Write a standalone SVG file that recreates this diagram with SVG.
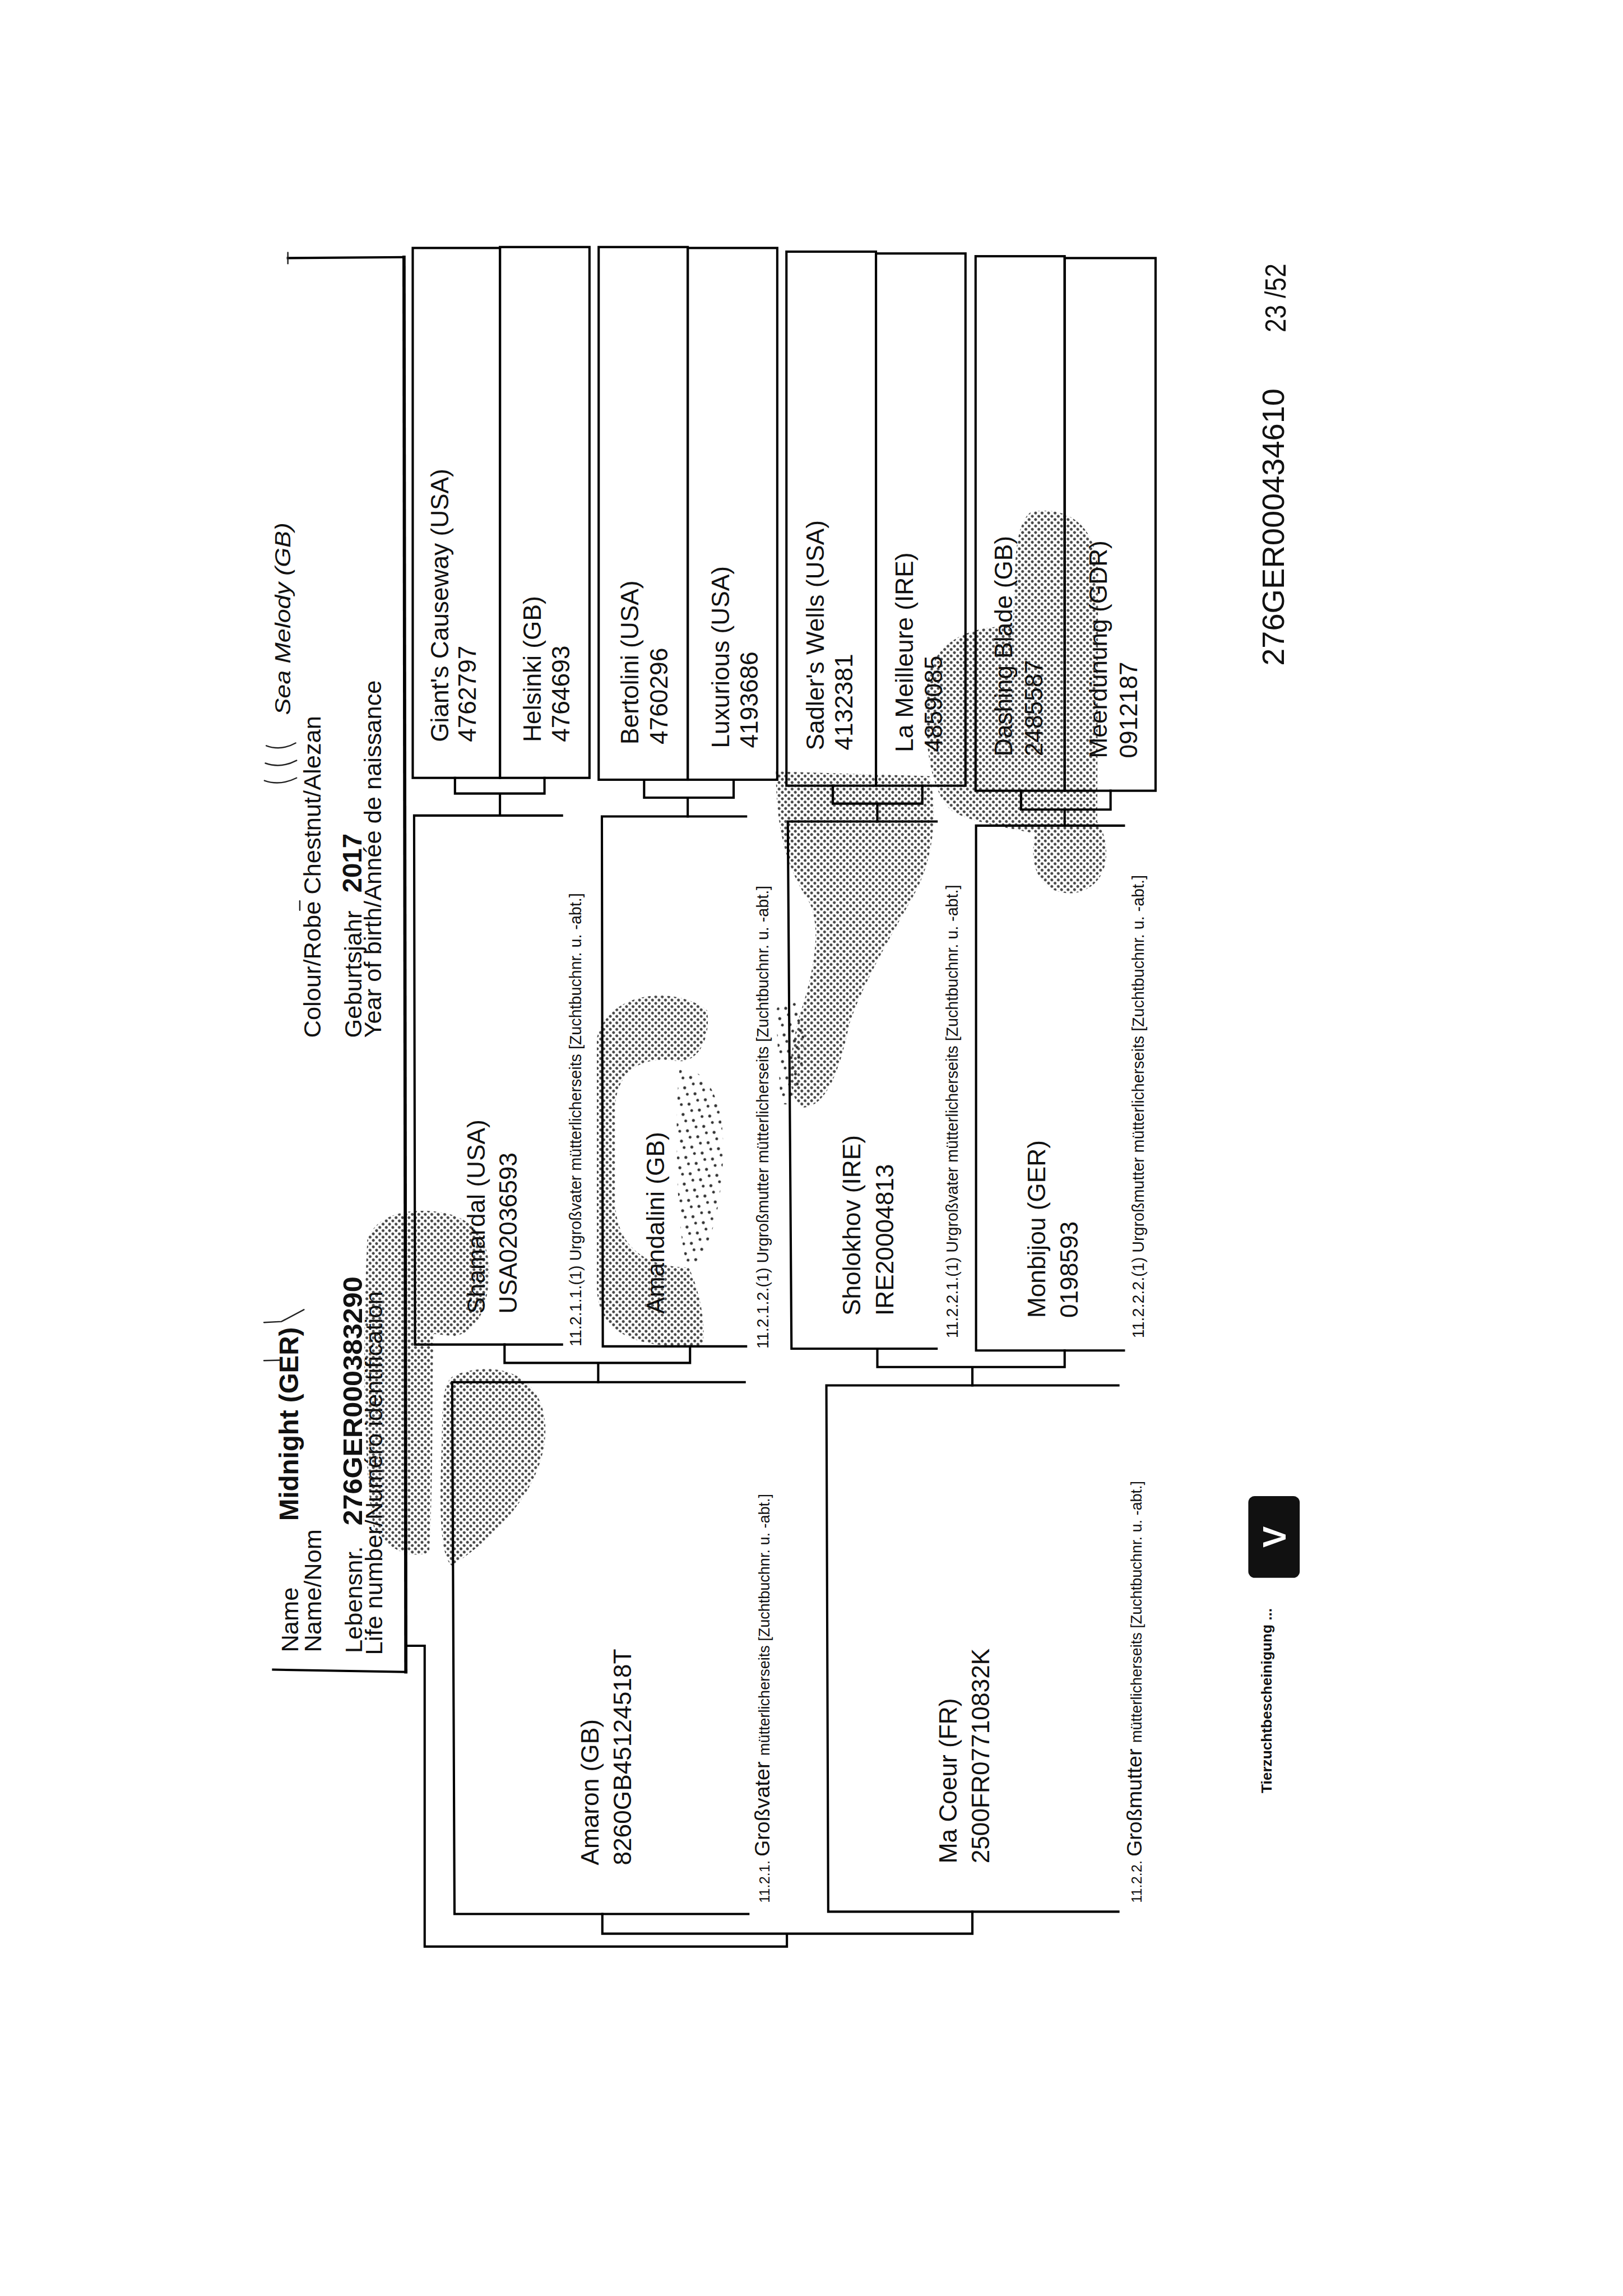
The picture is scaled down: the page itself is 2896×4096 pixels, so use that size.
<svg xmlns="http://www.w3.org/2000/svg" width="2896" height="4096" viewBox="0 0 2896 4096">
<defs>
<pattern id="dots" width="10" height="10" patternUnits="userSpaceOnUse" patternTransform="rotate(45)"><circle cx="5" cy="5" r="3.1" fill="#333"/></pattern>
<pattern id="sparse" width="26" height="26" patternUnits="userSpaceOnUse" patternTransform="rotate(30)"><circle cx="6" cy="6" r="3.2" fill="#333"/><circle cx="18" cy="15" r="3" fill="#333"/></pattern>
<clipPath id="farbeclip"><rect x="637" y="2090" width="60" height="190"/></clipPath>
<style>
.ln{fill:none;stroke:#000;stroke-width:5;stroke-linecap:square;stroke-linejoin:miter}
.hv{stroke-width:7}
.hw{fill:none;stroke:#222;stroke-width:3;stroke-linecap:round}
.t{font-family:"Liberation Sans",Arial,sans-serif;fill:#111}
.nm{font-size:54px}
.lb{font-size:35px}
.hd{font-size:53px}
.b{font-weight:bold}
.blob{fill:url(#dots);opacity:0.9}
.spr{fill:url(#sparse)}
</style>
</defs>
<rect width="2896" height="4096" fill="#fff"/>
<g transform="scale(0.8192)">

<g id="stains">
<path class="blob" d="M 800 2700 C 820 2640, 900 2630, 960 2640 C 1030 2650, 1070 2700, 1065 2780 C 1062 2850, 1040 2900, 990 2910 L 945 2905 C 940 3000, 945 3200, 935 3380 C 900 3395, 850 3380, 815 3330 C 790 3200, 790 2900, 800 2700 Z"/>
<path class="blob" d="M 990 2995 C 1080 2960, 1185 2990, 1188 3110 C 1190 3230, 1090 3340, 985 3410 C 955 3390, 958 3260, 962 3150 C 964 3060, 962 3010, 990 2995 Z"/>
<path class="blob" d="M 1540 2200 C 1480 2150, 1330 2150, 1300 2260 L 1300 2800 C 1300 2900, 1380 2940, 1530 2930 C 1540 2880, 1520 2800, 1500 2760 C 1440 2760, 1345 2740, 1340 2620 L 1340 2420 C 1340 2330, 1400 2300, 1470 2310 C 1520 2320, 1550 2260, 1540 2200 Z"/>
<path class="spr" d="M 1480 2330 C 1540 2320, 1580 2400, 1575 2520 C 1570 2650, 1540 2740, 1500 2760 C 1470 2700, 1470 2400, 1480 2330 Z"/>
<path class="blob" d="M 1690 1680 L 2025 1690 C 2045 1780, 2030 1880, 1990 1950 C 1940 2040, 1880 2140, 1850 2230 C 1830 2330, 1800 2410, 1750 2412 C 1710 2390, 1715 2300, 1745 2200 C 1775 2110, 1790 2010, 1760 1960 C 1720 1900, 1690 1820, 1690 1680 Z"/>
<path class="spr" d="M 1690 2200 C 1720 2150, 1760 2180, 1750 2300 C 1745 2380, 1720 2420, 1700 2400 Z"/>
<path class="blob" d="M 2245 1115 C 2320 1100, 2395 1140, 2392 1260 L 2390 1790 C 2420 1830, 2425 1930, 2340 1945 C 2260 1950, 2240 1880, 2255 1815 C 2180 1800, 2120 1790, 2080 1770 C 2030 1740, 2010 1620, 2018 1500 C 2025 1400, 2110 1360, 2205 1365 C 2215 1280, 2200 1150, 2245 1115 Z"/>
</g>

<g id="header">
<path class="ln" d="M 627 562 L 880 560"/>
<path class="ln hv" d="M 880 560 L 884 3641"/>
<path class="ln" d="M 884 3641 L 595 3636"/>
<path class="hw" d="M 627 550 L 627 574"/>
<text class="t hd" clip-path="url(#farbeclip)" transform="translate(650,2254) rotate(-90)">Farbe</text>
<text class="t hd" transform="translate(650,3598) rotate(-90)">Name</text>
<text class="t hd" transform="translate(700,3598) rotate(-90)">Name/Nom</text>
<text class="t b" font-size="58" transform="translate(650,3312) rotate(-90)">Midnight (GER)</text>
<text class="t hd" transform="translate(698,2260) rotate(-90)">Colour/Robe Chestnut/Alezan</text>
<text class="t hd" transform="translate(788,3600) rotate(-90)">Lebensnr.</text>
<text class="t b" font-size="58" textLength="542" lengthAdjust="spacingAndGlyphs" transform="translate(788,3322) rotate(-90)">276GER000383290</text>
<text class="t hd" transform="translate(833,3604) rotate(-90)">Life number/Numéro identification</text>
<text class="t hd" transform="translate(787,2260) rotate(-90)">Geburtsjahr</text>
<text class="t b" font-size="58" transform="translate(787,1944) rotate(-90)">2017</text>
<text class="t hd" transform="translate(830,2260) rotate(-90)">Year of birth/Année de naissance</text>
<text class="t" font-style="italic" font-size="48" textLength="419" lengthAdjust="spacingAndGlyphs" transform="translate(632,1557) rotate(-90)">Sea Melody (GB)</text>
<path class="hw" d="M 576 1700 Q 610 1712 646 1694 M 578 1662 Q 612 1674 646 1656 M 580 1624 Q 612 1636 644 1618"/>
<path class="hw" d="M 575 2880 L 613 2878 L 662 2852 M 575 2963 L 612 2962"/>
<path class="hw" d="M 653 1962 L 653 1982"/>
</g>

<g id="connectors">
<path class="ln" d="M 991 1694 L 991 1728 L 1186 1728 L 1186 1694 M 1089 1728 L 1089 1776"/>
<path class="ln" d="M 1403 1698 L 1403 1737 L 1598 1737 L 1598 1698 M 1498 1737 L 1498 1778"/>
<path class="ln" d="M 1814 1711 L 1814 1750 L 2009 1750 L 2009 1711 M 1911 1750 L 1911 1789"/>
<path class="ln" d="M 2224 1722 L 2224 1763 L 2419 1763 L 2419 1722 M 2319 1763 L 2319 1798"/>
<path class="ln" d="M 1099 2928 L 1099 2968 L 1503 2968 L 1503 2932 M 1303 2968 L 1303 3010"/>
<path class="ln" d="M 1911 2937 L 1911 2977 L 2319 2977 L 2319 2941 M 2118 2977 L 2118 3017"/>
<path class="ln" d="M 1312 4168 L 1312 4211 L 2118 4211 L 2118 4163 M 1714 4211 L 1714 4239 L 925 4239 L 925 3584 L 884 3584"/>
</g>

<g id="giants-causeway">
<rect class="ln" x="899" y="540" width="190" height="1154"/>
<text class="t nm" transform="translate(977,1616) rotate(-90)">Giant's Causeway (USA)<tspan x="0" dy="60">4762797</tspan></text>
</g>
<g id="helsinki">
<rect class="ln" x="1089" y="538" width="195" height="1156"/>
<text class="t nm" transform="translate(1178,1616) rotate(-90)">Helsinki (GB)<tspan x="0" dy="62">4764693</tspan></text>
</g>
<g id="bertolini">
<rect class="ln" x="1304" y="538" width="194" height="1160"/>
<text class="t nm" transform="translate(1390,1621) rotate(-90)">Bertolini (USA)<tspan x="0" dy="64">4760296</tspan></text>
</g>
<g id="luxurious">
<rect class="ln" x="1498" y="540" width="195" height="1158"/>
<text class="t nm" transform="translate(1588,1629) rotate(-90)">Luxurious (USA)<tspan x="0" dy="62">4193686</tspan></text>
</g>
<g id="sadlers-wells">
<rect class="ln" x="1713" y="548" width="195" height="1163"/>
<text class="t nm" transform="translate(1794,1634) rotate(-90)">Sadler's Wells (USA)<tspan x="0" dy="63">4132381</tspan></text>
</g>
<g id="la-meilleure">
<rect class="ln" x="1908" y="552" width="195" height="1159"/>
<text class="t nm" transform="translate(1989,1638) rotate(-90)">La Meilleure (IRE)<tspan x="0" dy="63">4859085</tspan></text>
</g>
<g id="dashing-blade">
<rect class="ln" x="2125" y="558" width="194" height="1164"/>
<text class="t nm" transform="translate(2204,1647) rotate(-90)">Dashing Blade (GB)<tspan x="0" dy="66">2485587</tspan></text>
</g>
<g id="meerduenung">
<rect class="ln" x="2319" y="562" width="198" height="1160"/>
<text class="t nm" transform="translate(2411,1651) rotate(-90)">Meerdünung (GDR)<tspan x="0" dy="66">0912187</tspan></text>
</g>

<g id="shamardal">
<path class="ln" d="M 1224 1776 L 902 1776 L 904 2928 L 1224 2928"/>
<text class="t nm" transform="translate(1056,2861) rotate(-90)">Shamardal (USA)<tspan x="0" dy="70">USA02036593</tspan></text>
<text class="t lb" transform="translate(1266,2932) rotate(-90)">11.2.1.1.(1) Urgroßvater mütterlicherseits [Zuchtbuchnr. u. -abt.]</text>
</g>
<g id="amandalini">
<path class="ln" d="M 1625 1778 L 1311 1778 L 1313 2932 L 1625 2932"/>
<text class="t nm" transform="translate(1447,2861) rotate(-90)">Amandalini (GB)</text>
<text class="t lb" transform="translate(1674,2937) rotate(-90)">11.2.1.2.(1) Urgroßmutter mütterlicherseits [Zuchtbuchnr. u. -abt.]</text>
</g>
<g id="sholokhov">
<path class="ln" d="M 2040 1789 L 1716 1789 L 1724 2937 L 2040 2937"/>
<text class="t nm" transform="translate(1874,2865) rotate(-90)">Sholokhov (IRE)<tspan x="0" dy="72">IRE20004813</tspan></text>
<text class="t lb" transform="translate(2086,2914) rotate(-90)">11.2.2.1.(1) Urgroßvater mütterlicherseits [Zuchtbuchnr. u. -abt.]</text>
</g>
<g id="monbijou">
<path class="ln" d="M 2448 1798 L 2126 1798 L 2126 2941 L 2448 2941"/>
<text class="t nm" transform="translate(2277,2870) rotate(-90)">Monbijou (GER)<tspan x="0" dy="70">0198593</tspan></text>
<text class="t lb" transform="translate(2491,2914) rotate(-90)">11.2.2.2.(1) Urgroßmutter mütterlicherseits [Zuchtbuchnr. u. -abt.]</text>
</g>

<g id="amaron">
<path class="ln" d="M 1622 3010 L 985 3010 L 990 4168 L 1630 4168"/>
<text class="t nm" transform="translate(1304,4062) rotate(-90)">Amaron (GB)<tspan x="0" dy="71">8260GB45124518T</tspan></text>
<text class="t" transform="translate(1676,4144) rotate(-90)"><tspan font-size="31">11.2.1. </tspan><tspan font-size="46">Großvater </tspan><tspan font-size="33">mütterlicherseits [Zuchtbuchnr. u. -abt.]</tspan></text>
</g>
<g id="ma-coeur">
<path class="ln" d="M 2436 3017 L 1800 3017 L 1804 4163 L 2436 4163"/>
<text class="t nm" transform="translate(2084,4058) rotate(-90)">Ma Coeur (FR)<tspan x="0" dy="71">2500FR07710832K</tspan></text>
<text class="t" transform="translate(2487,4144) rotate(-90)"><tspan font-size="31">11.2.2. </tspan><tspan font-size="46">Großmutter </tspan><tspan font-size="33">mütterlicherseits [Zuchtbuchnr. u. -abt.]</tspan></text>
</g>

<g id="footer">
<text class="t" font-size="67" textLength="604" lengthAdjust="spacingAndGlyphs" transform="translate(2797,1450) rotate(-90)">276GER000434610</text>
<text class="t" font-size="64" textLength="150" lengthAdjust="spacingAndGlyphs" transform="translate(2800,724) rotate(-90)">23 /52</text>
<text class="t b" font-size="32" transform="translate(2770,3905) rotate(-90)">Tierzuchtbescheinigung ...</text>
<rect x="2719" y="3258" width="112" height="178" rx="14" fill="#111"/>
<text class="t b" font-size="70" style="fill:#fff" text-anchor="middle" transform="translate(2800,3347) rotate(-90)">V</text>
</g>

</g>
</svg>
